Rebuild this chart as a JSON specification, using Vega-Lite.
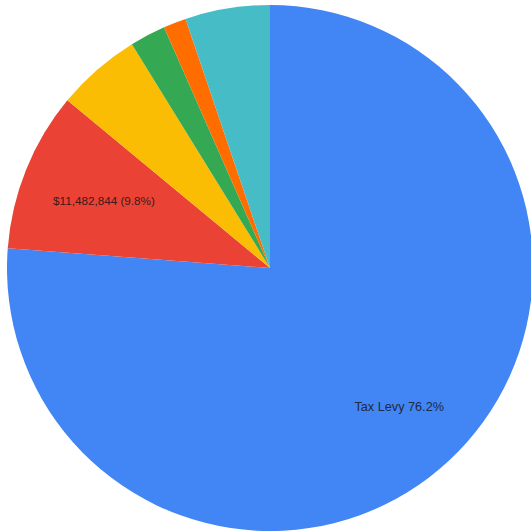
{
  "$schema": "https://vega.github.io/schema/vega-lite/v6.json",
  "width": 540,
  "height": 536,
  "padding": 0,
  "autosize": {"type": "none"},
  "background": "white",
  "view": {"stroke": null},
  "data": {
    "values": [
      {"idx": 1, "cat": "Tax Levy", "amount": 89285000, "label": "Tax Levy 76.2%"},
      {"idx": 2, "cat": "Other Revenue A", "amount": 11482844, "label": "$11,482,844 (9.8%)"},
      {"idx": 3, "cat": "Other Revenue B", "amount": 6093000, "label": ""},
      {"idx": 4, "cat": "Other Revenue C", "amount": 2578000, "label": ""},
      {"idx": 5, "cat": "Other Revenue D", "amount": 1640000, "label": ""},
      {"idx": 6, "cat": "Other Revenue E", "amount": 6093000, "label": ""}
    ]
  },
  "encoding": {
    "theta": {"field": "amount", "type": "quantitative", "stack": true},
    "order": {"field": "idx", "type": "quantitative"}
  },
  "layer": [
    {
      "mark": {"type": "arc", "outerRadius": 263, "stroke": null},
      "encoding": {
        "color": {
          "field": "cat",
          "type": "nominal",
          "scale": {
            "domain": ["Tax Levy", "Other Revenue A", "Other Revenue B", "Other Revenue C", "Other Revenue D", "Other Revenue E"],
            "range": ["#4285F4", "#EA4335", "#FBBC04", "#34A853", "#FF6D01", "#46BDC6"]
          },
          "legend": null
        }
      }
    },
    {
      "mark": {"type": "text", "radius": 190, "font": "Liberation Sans", "fontSize": 12.7, "color": "#1f2a44"},
      "encoding": {
        "text": {"condition": {"test": "datum.idx === 1", "field": "label"}, "value": ""}
      }
    },
    {
      "mark": {"type": "text", "radius": 179, "font": "Liberation Sans", "fontSize": 11.7, "color": "#3a1a1a"},
      "encoding": {
        "text": {"condition": {"test": "datum.idx === 2", "field": "label"}, "value": ""}
      }
    }
  ]
}
